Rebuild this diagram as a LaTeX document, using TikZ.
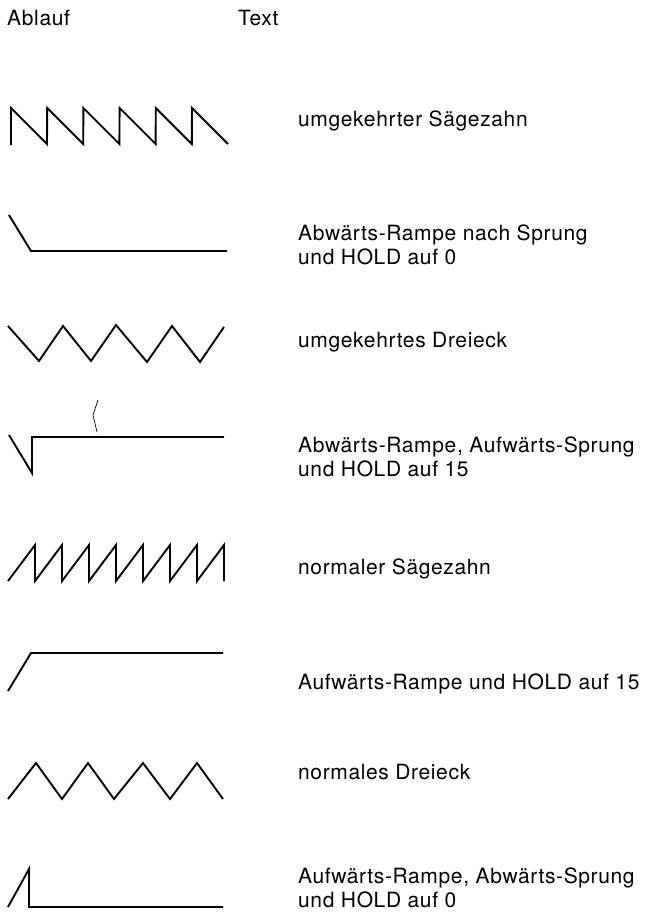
\documentclass[tikz,border=0pt]{standalone}
\usepackage{fontspec}
\setmainfont[LetterSpace=3]{TeX Gyre Heros}
\usetikzlibrary{positioning}

\begin{document}
\begin{tikzpicture}[
    x=1pt, y=-1pt,
    font=\fontsize{21}{24}\selectfont,
    wave/.style={line width=1.9pt, line join=miter, draw=black},
    caption/.style={anchor=base west, inner sep=0pt, align=left},
    head/.style={anchor=base west, inner sep=0pt}
  ]
  \useasboundingbox (0,0) rectangle (654,919);
  % Spaltenkoepfe
  \node[head] (hablauf) at (7,25) {Ablauf};
  \node[head] (htext) at (238,25) {Text};

  % umgekehrter Saegezahn
  \draw[wave] (11,145) \foreach \i in {0,...,5} { -- (11+36.2*\i,108) -- (47+36.2*\i,144) };
  \node[caption] (tsaegeinv) at (298,126) {umgekehrter Sägezahn};

  % Abwaerts-Rampe nach Sprung
  \draw[wave] (9,215) -- (31,251) -- (227,251);
  \node[caption] (trampeab) at (298,264) {Abwärts-Rampe nach Sprung\\und HOLD auf 0};

  % umgekehrtes Dreieck
  \draw[wave] (8,326) -- (39,361) -- (63,326) -- (91,361) -- (116,325)
    -- (147,362) -- (172,326) -- (200,362) -- (224,327);
  \node[caption] (tdreiinv) at (298,347) {umgekehrtes Dreieck};

  % Abwaerts-Rampe, Aufwaerts-Sprung
  \draw[wave] (9,435) -- (32,473) -- (32,437) -- (224,437);
  \draw[line width=0.7pt] (98,400) -- (93,415) -- (97,432);
  \node[caption] (trampeabsp) at (298,476) {Abwärts-Rampe, Aufwärts-Sprung\\und HOLD auf 15};

  % normaler Saegezahn
  \draw[wave] (8,581) \foreach \i in {0,...,7} { -- (35+27*\i,545) -- (35+27*\i,581) };
  \node[caption] (tsaege) at (298,574) {normaler Sägezahn};

  % Aufwaerts-Rampe und HOLD
  \draw[wave] (8,691) -- (31,653) -- (223,653);
  \node[caption] (trampeauf) at (298,689) {Aufwärts-Rampe und HOLD auf 15};

  % normales Dreieck
  \draw[wave] (8,799) -- (36,763) -- (62,799) -- (88,763) -- (114,799)
    -- (143,763) -- (170,799) -- (197,763) -- (223,799);
  \node[caption] (tdrei) at (298,779) {normales Dreieck};

  % Aufwaerts-Rampe, Abwaerts-Sprung
  \draw[wave] (8,907) -- (29,869) -- (29,907) -- (223,907);
  \node[caption] (trampeaufsp) at (298,907) {Aufwärts-Rampe, Abwärts-Sprung\\und HOLD auf 0};
\end{tikzpicture}
\end{document}
